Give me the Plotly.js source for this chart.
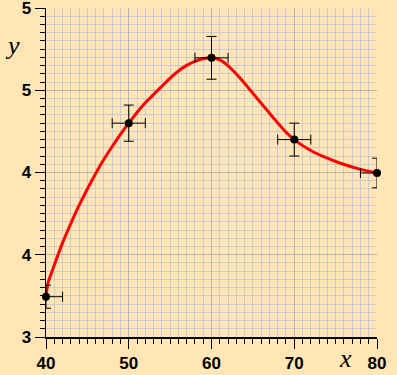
<!DOCTYPE html>
<html>
<head>
<meta charset="utf-8">
<script src="https://cdn.plot.ly/plotly-3.0.1.min.js"></script>
<style>
  html, body { margin: 0; padding: 0; background: #FFE6B4; }
  #chart { width: 397px; height: 375px; }
</style>
</head>
<body>
<div id="chart"></div>
<script>
// Measured points
const xData = [40, 50, 60, 70, 80];
const yData = [3.245, 4.30, 4.697, 4.20, 3.997];
const xErr = [2, 2, 2, 2, 2];
const yErr = [0.07, 0.11, 0.13, 0.10, 0.09];

// Fitted curve
const xCurve = [40, 40.25, 41, 42, 43, 44, 45, 46, 47, 48, 49, 50, 51, 52, 53, 54, 55, 56, 57, 58, 59, 60, 60.42, 61, 61.64, 62.64, 63.66, 64.67, 65.67, 66.69, 67.7, 68.7, 69.35, 70, 70.7, 71.54, 72.5, 73.55, 75.58, 78, 80];
const yCurve = [3.245, 3.33, 3.437, 3.572, 3.69, 3.80, 3.90, 3.993, 4.080, 4.158, 4.232, 4.30, 4.365, 4.424, 4.474, 4.524, 4.574, 4.617, 4.651, 4.676, 4.692, 4.698, 4.695, 4.685, 4.664, 4.618, 4.562, 4.502, 4.441, 4.380, 4.319, 4.262, 4.228, 4.200, 4.174, 4.147, 4.12, 4.096, 4.056, 4.019, 3.997];

const xTicks = [40, 50, 60, 70, 80];
const yTicks = [3, 3.5, 4, 4.5, 5];

const tickFont = {family: 'Liberation Sans, Arial, sans-serif', size: 17, color: '#000', weight: 'bold'};
const gridMinor = '#C9C9D1';
const gridMajor = '#B2B2BA';

const traces = [
  {
    x: xCurve, y: yCurve, type: 'scatter', mode: 'lines',
    line: {color: '#FF0000', width: 3, shape: 'spline', smoothing: 0.5},
    cliponaxis: false, hoverinfo: 'skip', showlegend: false
  },
  {
    x: xData, y: yData, type: 'scatter', mode: 'markers',
    marker: {color: '#000', size: 8},
    error_x: {type: 'data', array: xErr, visible: true, color: '#000', thickness: 1, width: 5},
    error_y: {type: 'data', array: yErr, visible: true, color: '#000', thickness: 1, width: 5},
    cliponaxis: false, showlegend: false
  }
];

const layout = {
  width: 397, height: 375,
  paper_bgcolor: '#FFE6B4', plot_bgcolor: '#FFE6B4',
  margin: {l: 46, r: 20, t: 8, b: 38},
  showlegend: false,
  xaxis: {
    range: [40, 80], tickvals: xTicks, ticktext: xTicks.map(String),
    showline: true, linecolor: '#000', linewidth: 1.5,
    ticks: 'outside', ticklen: 10, tickwidth: 1, tickcolor: '#000',
    showgrid: true, gridcolor: gridMajor, gridwidth: 1,
    zeroline: false, tickfont: tickFont, ticklabeloverflow: 'allow',
    minor: {dtick: 1, tick0: 40, ticks: 'outside', ticklen: 5, tickwidth: 1, tickcolor: '#000', showgrid: true, gridcolor: gridMinor, gridwidth: 1},
    fixedrange: true
  },
  yaxis: {
    range: [3, 5], tickvals: yTicks, tickformat: '.0f',
    showline: true, linecolor: '#000', linewidth: 1.5,
    ticks: 'outside', ticklen: 10, tickwidth: 1, tickcolor: '#000',
    showgrid: true, gridcolor: gridMajor, gridwidth: 1,
    zeroline: false, tickfont: tickFont, ticklabeloverflow: 'allow',
    minor: {dtick: 0.05, tick0: 3, ticks: 'outside', ticklen: 5, tickwidth: 1, tickcolor: '#000', showgrid: true, gridcolor: gridMinor, gridwidth: 1},
    fixedrange: true
  },
  annotations: [
    {text: 'y', xref: 'paper', yref: 'paper', x: -0.1, y: 0.886, showarrow: false,
     xanchor: 'center', yanchor: 'middle',
     font: {family: 'Liberation Serif, Times New Roman, serif', size: 26, style: 'italic', color: '#000'}},
    {text: 'x', xref: 'paper', yref: 'paper', x: 0.906, y: -0.065, showarrow: false,
     xanchor: 'center', yanchor: 'middle',
     font: {family: 'Liberation Serif, Times New Roman, serif', size: 26, style: 'italic', color: '#000'}}
  ]
};

Plotly.newPlot('chart', traces, layout, {displayModeBar: false, staticPlot: true});
</script>
</body>
</html>
